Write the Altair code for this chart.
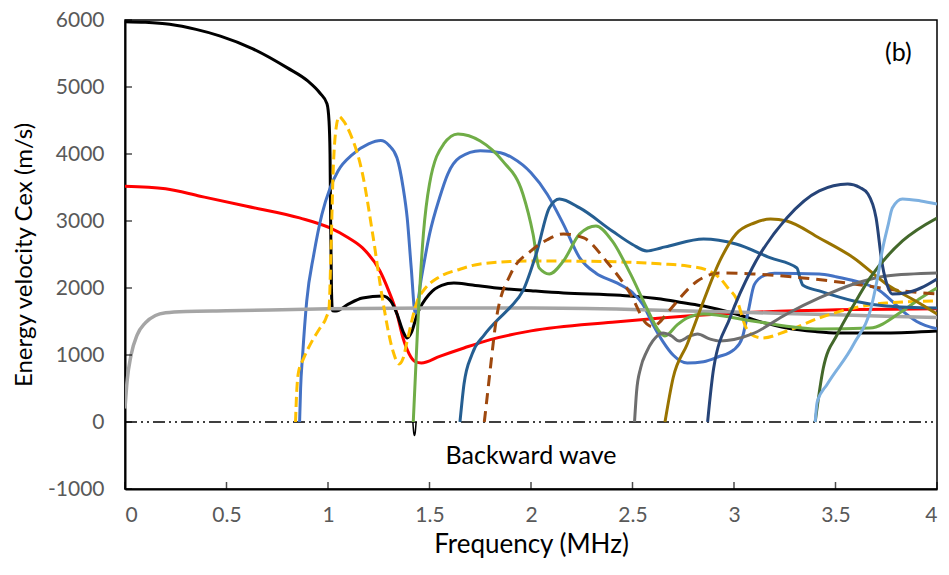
import altair as alt
import pandas as pd

# ---------------- data ----------------
black_x = [0, 0.1, 0.22, 0.35, 0.47, 0.63, 0.8, 0.9, 0.96, 0.995, 1.005, 1.01, 1.013, 1.017, 1.022, 1.04, 1.1, 1.17, 1.27, 1.31, 1.34, 1.37, 1.39, 1.41, 1.44, 1.5, 1.56, 1.62, 1.7, 1.83, 2.0, 2.16, 2.44, 2.64, 2.75, 2.85, 3.01, 3.15, 3.26, 3.4, 3.51, 3.75, 4.0]
black_y = [5975, 5965, 5935, 5860, 5760, 5570, 5285, 5090, 4910, 4750, 4495, 4000, 3000, 2000, 1660, 1657, 1760, 1851, 1881, 1800, 1612, 1350, 1254, 1330, 1612, 1911, 2040, 2075, 2050, 2000, 1960, 1926, 1890, 1836, 1780, 1732, 1612, 1480, 1403, 1350, 1329, 1329, 1358]

blackv_x = [1.418, 1.422, 1.426, 1.430, 1.434]
blackv_y = [0, -150, -200, -150, 0]

red_x = [0, 0.2, 0.37, 0.6, 0.86, 1.01, 1.1, 1.17, 1.256, 1.30, 1.34, 1.37, 1.40, 1.43, 1.46, 1.55, 1.67, 1.8, 2.0, 2.4, 2.64, 2.93, 3.3, 4.0]
red_y = [3520, 3480, 3370, 3220, 3046, 2896, 2750, 2598, 2254, 1950, 1612, 1250, 1015, 900, 880, 980, 1105, 1230, 1360, 1490, 1553, 1612, 1660, 1690]

gray_x = [0, 0.01, 0.03, 0.06, 0.1, 0.15, 0.2, 0.3, 0.5, 1.0, 1.5, 2.0, 2.5, 3.0, 3.5, 4.0]
gray_y = [200, 600, 1000, 1300, 1480, 1590, 1630, 1650, 1660, 1690, 1700, 1700, 1680, 1640, 1600, 1560]

blue_x = [0.86, 0.865, 0.875, 0.895, 0.93, 0.97, 1.01, 1.05, 1.12, 1.2, 1.26, 1.3, 1.34, 1.37, 1.39, 1.41, 1.43, 1.46, 1.50, 1.55, 1.59, 1.65, 1.75, 1.85, 1.91, 2.0, 2.08, 2.16, 2.24, 2.32, 2.42, 2.5, 2.55, 2.60, 2.65, 2.70, 2.77, 2.85, 2.92, 3.0, 3.04, 3.07, 3.10, 3.15, 3.2, 3.42, 3.5, 3.6, 3.72, 3.78, 3.83, 3.9, 4.0]
blue_y = [0, 500, 1000, 1800, 2500, 3100, 3490, 3750, 3990, 4150, 4200, 4130, 3940, 3500, 3050, 2300, 1620, 2150, 2800, 3350, 3700, 3950, 4050, 4020, 3940, 3720, 3400, 2950, 2450, 2220, 2080, 1930, 1760, 1460, 1200, 1000, 880, 900, 970, 1080, 1250, 1650, 2050, 2190, 2220, 2210, 2170, 2100, 1956, 1800, 1657, 1500, 1390]

yellow_x = [0.84, 0.845, 0.855, 0.88, 0.92, 0.96, 0.99, 1.005, 1.015, 1.025, 1.04, 1.055, 1.07, 1.11, 1.17, 1.22, 1.27, 1.32, 1.35, 1.37, 1.39, 1.44, 1.48, 1.54, 1.65, 1.75, 2.0, 2.44, 2.64, 2.77, 2.88, 2.93, 2.97, 3.01, 3.06, 3.10, 3.14, 3.26, 3.42, 3.59, 3.75, 4.0]
yellow_y = [0, 400, 750, 950, 1200, 1400, 1550, 1700, 2600, 3700, 4390, 4560, 4520, 4300, 3703, 2807, 1807, 1060, 866, 950, 1209, 1806, 2000, 2150, 2280, 2359, 2404, 2390, 2359, 2329, 2250, 2150, 2000, 1851, 1403, 1280, 1254, 1358, 1553, 1702, 1776, 1806]

green_x = [1.42, 1.44, 1.47, 1.50, 1.57, 1.64, 1.75, 1.86, 1.96, 2.01, 2.04, 2.09, 2.16, 2.24, 2.32, 2.40, 2.49, 2.57, 2.63, 2.66, 2.72, 2.77, 2.85, 3.09, 3.42, 3.67, 3.83, 3.92, 4.0]
green_y = [0, 1314, 2807, 3553, 4150, 4300, 4195, 3897, 3404, 2807, 2300, 2210, 2404, 2807, 2926, 2702, 2210, 1702, 1358, 1284, 1450, 1553, 1612, 1508, 1388, 1403, 1657, 1850, 2000]

teal_x = [1.65, 1.66, 1.67, 1.71, 1.77, 1.83, 1.90, 1.96, 2.03, 2.09, 2.14, 2.24, 2.40, 2.50, 2.57, 2.64, 2.68, 2.85, 3.01, 3.18, 3.31, 3.325, 3.34, 3.42, 3.59, 3.75, 4.0]
teal_y = [0, 300, 567, 1015, 1300, 1508, 1720, 1956, 2553, 3195, 3329, 3195, 2851, 2650, 2553, 2598, 2627, 2732, 2657, 2449, 2299, 2150, 2040, 1956, 1806, 1732, 1702]

brown_x = [1.77, 1.785, 1.80, 1.83, 1.90, 2.0, 2.08, 2.16, 2.26, 2.37, 2.49, 2.57, 2.60, 2.63, 2.68, 2.82, 2.93, 3.09, 3.34, 3.59, 3.83, 4.0]
brown_y = [0, 400, 806, 1553, 2210, 2553, 2720, 2807, 2747, 2404, 1911, 1463, 1420, 1480, 1657, 2105, 2224, 2210, 2150, 2060, 1956, 1911]

dgray_x = [2.51, 2.52, 2.54, 2.57, 2.60, 2.65, 2.69, 2.73, 2.78, 2.82, 2.88, 2.93, 3.0, 3.09, 3.26, 3.42, 3.59, 3.75, 4.0]
dgray_y = [0, 450, 806, 1050, 1209, 1329, 1290, 1209, 1280, 1314, 1240, 1209, 1230, 1314, 1612, 1851, 2060, 2180, 2224]

olive_x = [2.66, 2.70, 2.77, 2.85, 2.93, 3.01, 3.10, 3.18, 3.26, 3.42, 3.59, 3.75, 3.92, 4.0]
olive_y = [0, 657, 1164, 1806, 2404, 2807, 2970, 3030, 3000, 2747, 2449, 2060, 1762, 1612]

navy_x = [2.87, 2.90, 2.98, 3.09, 3.26, 3.42, 3.56, 3.62, 3.66, 3.70, 3.73, 3.76, 3.78, 3.85, 3.92, 4.0]
navy_y = [0, 806, 1553, 2299, 3045, 3450, 3553, 3500, 3404, 3045, 2359, 2000, 1911, 1930, 2000, 2135]

dgreen_x = [3.40, 3.44, 3.51, 3.59, 3.67, 3.83, 4.0]
dgreen_y = [0, 806, 1314, 1750, 2150, 2702, 3045]

lblue_x = [3.40, 3.41, 3.46, 3.59, 3.68, 3.71, 3.73, 3.76, 3.78, 3.83, 3.92, 4.0]
lblue_y = [0, 300, 567, 1164, 1762, 2200, 2553, 2950, 3195, 3329, 3300, 3255]

zero_x = [0, 4]
zero_y = [0, 0]

x_ticks = [0, 0.5, 1, 1.5, 2, 2.5, 3, 3.5, 4]
y_ticks = [-1000, 0, 1000, 2000, 3000, 4000, 5000, 6000]

notes_text = ["Backward wave", "(b)"]
notes_x = [2.0, 3.81]
notes_y = [-500, 5510]

# ---------------- chart ----------------
W, H = 812, 469
FONT = "Lato"

xscale = alt.Scale(domain=[0, 4], nice=False, zero=False)
yscale = alt.Scale(domain=[-1000, 6000], nice=False, zero=False)
xaxis = alt.Axis(title="Frequency (MHz)", values=x_ticks, labelExpr="format(datum.value, '~g')",
                 ticks=False, grid=False, labelPadding=15, titlePadding=6, titleFontSize=26)
yaxis = alt.Axis(title="Energy velocity Cex (m/s)", values=y_ticks, labelExpr="'' + datum.value",
                 ticks=False, grid=False, labelPadding=21, titlePadding=11, titleFontSize=24)

series = [
    ("red", red_x, red_y, "#FF0000", None, 3),
    ("black", black_x, black_y, "#000000", None, 3),
    ("blackv", blackv_x, blackv_y, "#000000", None, 1.5),
    ("blue", blue_x, blue_y, "#4472C4", None, 3),
    ("gray", gray_x, gray_y, "#A5A5A5", None, 3.5),
    ("yellow", yellow_x, yellow_y, "#FFC000", [10, 5], 3),
    ("green", green_x, green_y, "#70AD47", None, 3),
    ("teal", teal_x, teal_y, "#255E91", None, 3),
    ("brown", brown_x, brown_y, "#9E480E", [11, 7], 3),
    ("dgray", dgray_x, dgray_y, "#6E6E6E", None, 3),
    ("olive", olive_x, olive_y, "#997300", None, 3),
    ("navy", navy_x, navy_y, "#264478", None, 3),
    ("dgreen", dgreen_x, dgreen_y, "#43682B", None, 3),
    ("lblue", lblue_x, lblue_y, "#7DB0E0", None, 3),
]

zero_df = pd.DataFrame({"x": zero_x, "y": zero_y})
layers = [
    alt.Chart(zero_df).mark_line(color="black", strokeWidth=1.5, strokeDash=[12, 4, 2, 4, 2, 4]).encode(
        x=alt.X("x:Q", scale=xscale, axis=xaxis),
        y=alt.Y("y:Q", scale=yscale, axis=yaxis),
    )
]

for name, xs, ys, color, dash, width in series:
    df = pd.DataFrame({"x": xs, "y": ys, "i": list(range(len(xs)))})
    kw = dict(color=color, strokeWidth=width, interpolate="monotone", clip=True)
    if dash:
        kw["strokeDash"] = dash
    layers.append(
        alt.Chart(df).mark_line(**kw).encode(
            x=alt.X("x:Q", scale=xscale, axis=xaxis),
            y=alt.Y("y:Q", scale=yscale, axis=yaxis),
            order="i:Q",
        )
    )

# inward tick marks (Excel style)
xt_df = pd.DataFrame({"v": x_ticks})
yt_df = pd.DataFrame({"v": y_ticks})
layers.append(
    alt.Chart(xt_df).mark_tick(color="black", thickness=1.5, size=7, orient="vertical").encode(
        x=alt.X("v:Q", scale=xscale, axis=xaxis), y=alt.value(H - 3.5)
    )
)
layers.append(
    alt.Chart(yt_df).mark_tick(color="black", thickness=1.5, size=7, orient="horizontal").encode(
        y=alt.Y("v:Q", scale=yscale, axis=yaxis), x=alt.value(3.5)
    )
)

notes_df = pd.DataFrame({"t": notes_text, "x": notes_x, "y": notes_y})
layers.append(
    alt.Chart(notes_df).mark_text(font=FONT, fontSize=25, color="black", align="center", baseline="middle").encode(
        x=alt.X("x:Q", scale=xscale, axis=xaxis),
        y=alt.Y("y:Q", scale=yscale, axis=yaxis),
        text="t:N",
    )
)

chart = alt.layer(*layers).properties(
    width=W, height=H,
    autosize=alt.AutoSizeParams(type="none"),
    padding={"left": 117, "top": 12, "right": 4, "bottom": 78},
).configure_view(
    stroke="black", strokeWidth=1.5
).configure_axis(
    domainColor="black", domainWidth=2,
    labelColor="#595959", labelFont=FONT, labelFontSize=21,
    titleColor="black", titleFont=FONT, titleFontWeight="normal",
)

chart.save("out.html", embed_options={"renderer": "svg", "actions": False})
